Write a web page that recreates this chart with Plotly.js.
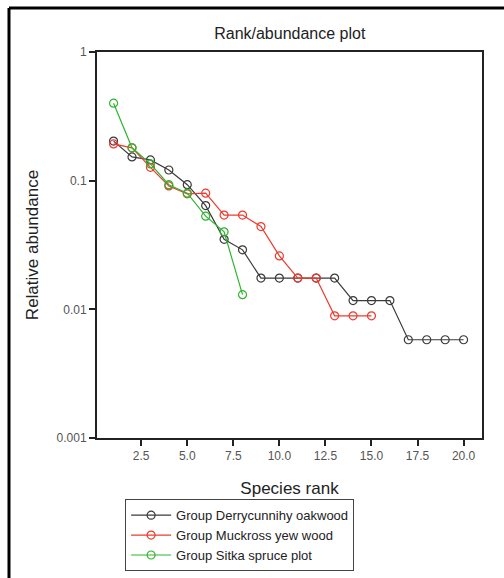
<!DOCTYPE html>
<html>
<head>
<meta charset="utf-8">
<script src="https://cdn.plot.ly/plotly-3.0.1.min.js"></script>
<style>html,body{margin:0;padding:0;background:#fff;}#chart{width:504px;height:578px;}</style>
</head>
<body>
<div id="chart"></div>
<script>
const rankDerry = [1,2,3,4,5,6,7,8,9,10,11,12,13,14,15,16,17,18,19,20];
const derry = [0.203,0.153,0.145,0.121,0.093,0.064,0.035,0.029,0.0175,0.0175,0.0175,0.0175,0.0175,0.0117,0.0117,0.0117,0.0058,0.0058,0.0058,0.0058];
const rankMuck = [1,2,3,4,5,6,7,8,9,10,11,12,13,14,15];
const muck = [0.193,0.18,0.127,0.091,0.079,0.08,0.054,0.054,0.044,0.026,0.0175,0.0175,0.0089,0.0089,0.0089];
const rankSitka = [1,2,3,4,5,6,7,8];
const sitka = [0.40,0.18,0.135,0.093,0.08,0.053,0.040,0.013];
const xTicks = [2.5,5,7.5,10,12.5,15,17.5,20];
const xTickText = ['2.5','5.0','7.5','10.0','12.5','15.0','17.5','20.0'];
const yTicks = [0.001,0.01,0.1,1];
const yTickText = ['0.001','0.01','0.1','1'];

function tr(x,y,name,color){
  return {x:x,y:y,name:name,type:'scatter',mode:'lines+markers',
    line:{color:color,width:1.2},
    marker:{symbol:'circle-open',size:8,color:color,line:{width:1.2,color:color}}};
}
const data = [
  tr(rankDerry,derry,'Group Derrycunnihy oakwood','#3a3a3a'),
  tr(rankMuck,muck,'Group Muckross yew wood','#ee3b2e'),
  tr(rankSitka,sitka,'Group Sitka spruce plot','#2fb52f')
];
const axisCommon = {showline:true,linecolor:'#222',linewidth:2,mirror:true,ticks:'outside',ticklen:6,tickwidth:2,tickcolor:'#222',showgrid:false,zeroline:false,automargin:false,tickfont:{family:'Liberation Sans, Arial, sans-serif',size:12,color:'#555'}};
const layout = {
  width:504,height:578,
  margin:{l:97,r:22,t:52,b:140,autoexpand:false},
  paper_bgcolor:'#fff',plot_bgcolor:'#fff',
  font:{family:'Liberation Sans, Arial, sans-serif',color:'#222'},
  title:{text:'Rank/abundance plot',font:{size:16,color:'#222'},x:0.575,xanchor:'center',y:0.943,yanchor:'middle'},
  xaxis:Object.assign({},axisCommon,{range:[0.1,21],tickvals:xTicks,ticktext:xTickText,
    title:{text:'Species rank',font:{size:17,color:'#222'},standoff:20}}),
  yaxis:Object.assign({},axisCommon,{type:'log',range:[-3,0],tickvals:yTicks,ticktext:yTickText,
    title:{text:'Relative abundance',font:{size:17,color:'#222'},standoff:14}}),
  showlegend:true,
  legend:{x:0.073,y:-0.252,xanchor:'left',yanchor:'middle',bordercolor:'#444',borderwidth:1,bgcolor:'#fff',
    font:{size:13,color:'#222'},tracegroupgap:0,itemwidth:40},
  shapes:[
    {type:'line',xref:'paper',yref:'paper',x0:-0.2286,x1:1.3,y0:1.114,y1:1.114,line:{color:'#000',width:3}},
    {type:'line',xref:'paper',yref:'paper',x0:-0.2286,x1:-0.2286,y0:1.114,y1:-0.5,line:{color:'#000',width:3}}
  ]
};
Plotly.newPlot('chart',data,layout,{displayModeBar:false,staticPlot:true});
</script>
</body>
</html>
